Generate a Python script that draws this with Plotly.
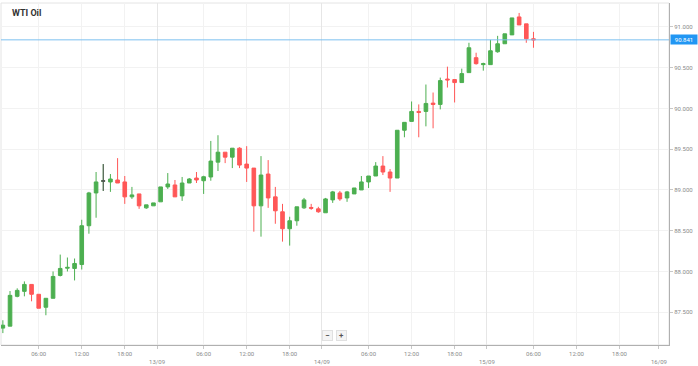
import pandas as pd
import plotly.graph_objects as go

# ---- data (hourly candles, 12/09 01:00 -> 15/09 06:00, 23:00 break each day) ----
opens = [87.305, 87.329, 87.695, 87.756, 87.841, 87.720, 87.561, 87.671, 87.951, 88.040,
         88.037, 88.085, 88.561, 88.963, 89.110, 89.098, 89.122, 89.098, 88.915, 88.951,
         88.780, 88.805, 88.854, 89.037, 89.061, 88.927, 89.085, 89.146, 89.113, 89.159,
         89.341, 89.463, 89.402, 89.512, 89.317, 89.268, 88.805, 89.195, 88.915, 88.732,
         88.524, 88.622, 88.780, 88.785, 88.768, 88.720, 88.878, 88.963, 88.902, 88.951,
         89.000, 89.098, 89.171, 89.293, 89.220, 89.146, 89.732, 89.841, 89.963, 89.963,
         90.065, 90.049, 90.360, 90.354, 90.317, 90.439, 90.622, 90.537, 90.537, 90.695,
         90.793, 90.902, 91.122, 91.037, 90.854]
highs = [87.402, 87.760, 87.793, 87.878, 87.841, 87.720, 87.671, 88.000, 88.207, 88.171,
         88.159, 88.634, 88.976, 89.220, 89.317, 89.195, 89.390, 89.171, 89.037, 88.951,
         88.817, 88.841, 89.037, 89.207, 89.122, 89.159, 89.146, 89.220, 89.174, 89.601,
         89.671, 89.463, 89.512, 89.524, 89.537, 89.268, 89.415, 89.366, 89.037, 88.829,
         88.671, 88.793, 88.902, 88.829, 88.793, 88.902, 88.988, 88.988, 88.988, 89.024,
         89.171, 89.171, 89.341, 89.415, 89.256, 89.732, 89.829, 90.085, 90.049, 90.293,
         90.195, 90.378, 90.512, 90.354, 90.488, 90.805, 90.683, 90.561, 90.841, 90.890,
         90.915, 91.110, 91.171, 91.037, 90.939]
lows = [87.244, 87.329, 87.683, 87.695, 87.634, 87.549, 87.463, 87.671, 87.939, 88.000,
        87.890, 88.024, 88.463, 88.659, 88.988, 88.976, 89.085, 88.829, 88.890, 88.768,
        88.768, 88.805, 88.854, 89.012, 88.915, 88.866, 89.085, 89.085, 88.951, 89.113,
        89.232, 89.329, 89.268, 89.268, 89.098, 88.488, 88.427, 88.780, 88.585, 88.366,
        88.317, 88.561, 88.768, 88.756, 88.720, 88.720, 88.841, 88.866, 88.854, 88.951,
        89.000, 89.024, 89.171, 89.183, 88.976, 89.146, 89.646, 89.841, 89.646, 89.780,
        89.756, 89.988, 90.256, 90.073, 90.317, 90.439, 90.537, 90.463, 90.537, 90.683,
        90.793, 90.902, 91.024, 90.805, 90.744]
closes = [87.341, 87.707, 87.768, 87.841, 87.720, 87.549, 87.671, 87.939, 88.037, 88.050,
          88.098, 88.561, 88.963, 89.098, 89.110, 89.134, 89.085, 88.915, 88.939, 88.805,
          88.817, 88.841, 89.037, 89.073, 88.915, 89.085, 89.134, 89.122, 89.162, 89.354,
          89.463, 89.402, 89.512, 89.305, 89.268, 88.805, 89.183, 88.902, 88.744, 88.524,
          88.622, 88.793, 88.878, 88.775, 88.732, 88.890, 88.976, 88.890, 88.976, 89.024,
          89.098, 89.171, 89.293, 89.220, 89.146, 89.732, 89.829, 89.963, 89.951, 90.061,
          90.049, 90.341, 90.350, 90.317, 90.427, 90.744, 90.549, 90.549, 90.707, 90.793,
          90.915, 91.110, 91.024, 90.854, 90.841]
neutral_idx = [14]          # doji drawn in grey
last_price_label = "90.841"

hour_tick_labels = ["06:00", "12:00", "18:00"]
price_ticks = [87.5, 88.0, 88.5, 89.0, 89.5, 90.0, 90.5, 91.0]
start_time = "2021-09-12 01:00"
axis_end_time = "2021-09-16 01:00"

# ---- build time slots (market candles skip 23:00; future has all hours) ----
all_hours = pd.date_range(start_time, axis_end_time, freq="h")
slots = []
for t in all_hours:
    if len(slots) < len(opens) and t.hour == 23:
        continue
    slots.append(t)
candle_times = slots[:len(opens)]
xs = list(range(len(opens)))

tickvals, ticktext, datevals = [], [], []
for i, t in enumerate(slots):
    lab = t.strftime("%H:%M")
    if lab in hour_tick_labels:
        tickvals.append(i); ticktext.append(lab)
    elif t.hour == 0:
        pos = i - 0.5
        tickvals.append(pos); ticktext.append("<br>" + t.strftime("%d/%m"))
        datevals.append(pos)

GREEN = "#4caf50"
RED = "#ff5757"

fig = go.Figure()
fig.add_trace(go.Candlestick(
    x=xs, open=opens, high=highs, low=lows, close=closes,
    increasing=dict(line=dict(color=GREEN, width=1), fillcolor=GREEN),
    decreasing=dict(line=dict(color=RED, width=1), fillcolor=RED),
    whiskerwidth=0, showlegend=False, hoverinfo="skip"))
fig.add_trace(go.Candlestick(
    x=[xs[i] for i in neutral_idx],
    open=[opens[i] for i in neutral_idx], high=[highs[i] for i in neutral_idx],
    low=[lows[i] for i in neutral_idx], close=[closes[i] for i in neutral_idx],
    increasing=dict(line=dict(color="#555555", width=1), fillcolor="#555555"),
    decreasing=dict(line=dict(color="#555555", width=1), fillcolor="#555555"),
    whiskerwidth=0, showlegend=False, hoverinfo="skip"))
# invisible trace to activate the date-grid axis
fig.add_trace(go.Scatter(x=[datevals[0]], y=[closes[0]], xaxis="x2",
                         mode="markers", marker=dict(opacity=0), showlegend=False,
                         hoverinfo="skip"))

xr = [-0.26, 92.9]
fig.update_layout(
    width=698, height=366,
    margin=dict(l=1, r=29, t=3, b=19),
    paper_bgcolor="white", plot_bgcolor="white",
    font=dict(family="Roboto, Arial, sans-serif", size=7, color="#8a8a8a"),
    boxgap=0.28,
    xaxis=dict(range=xr, tickmode="array", tickvals=tickvals, ticktext=ticktext,
               showgrid=True, gridcolor="#f2f2f2", gridwidth=1,
               showline=True, linecolor="#b0b0b0", linewidth=1,
               ticks="outside", ticklen=3, tickcolor="#c8c8c8",
               tickfont=dict(size=6, color="#8a8a8a"),
               rangeslider=dict(visible=False), zeroline=False, fixedrange=True),
    xaxis2=dict(range=xr, overlaying="x", tickmode="array", tickvals=datevals,
                showticklabels=False, showgrid=True, gridcolor="#e6e6e6",
                gridwidth=1, showline=False, zeroline=False, ticks=""),
    yaxis=dict(side="right", range=[87.098, 91.293], tickmode="array",
               tickvals=price_ticks, tickformat=".3f",
               showgrid=True, gridcolor="#f2f2f2", gridwidth=1,
               showline=True, linecolor="#b0b0b0", linewidth=1,
               ticks="outside", ticklen=3, tickcolor="#c8c8c8",
               tickfont=dict(size=6, color="#8a8a8a"), zeroline=False),
)

# light border on left/top
fig.add_shape(type="rect", xref="paper", yref="paper", x0=0, x1=1, y0=0, y1=1,
              line=dict(color="#e4e4e4", width=1), layer="below")
# current price line
fig.add_shape(type="line", xref="paper", yref="y", x0=0, x1=1,
              y0=closes[-1], y1=closes[-1], line=dict(color="#7cc0f0", width=1))
fig.add_annotation(xref="paper", yref="y", x=1.002, y=closes[-1], xanchor="left",
                   yanchor="middle", text=last_price_label, showarrow=False,
                   bgcolor="#2196f3", font=dict(size=6, color="white"),
                   borderpad=1, width=24)
# title
fig.add_annotation(xref="paper", yref="paper", x=0.013, y=0.971, xanchor="left",
                   yanchor="middle", text="<b>WTI Oil</b>", showarrow=False,
                   font=dict(size=9, color="#333333", family="Roboto, Arial, sans-serif"))
# zoom buttons
for xp, t in [(0.4895, "−"), (0.5095, "+")]:
    fig.add_annotation(xref="paper", yref="paper", x=xp, y=0.029, yanchor="middle",
                       xanchor="center", text="<b>%s</b>" % t,
                       showarrow=False, font=dict(size=8, color="#555555"),
                       bgcolor="#f4f4f4", bordercolor="#e0e0e0", borderwidth=1,
                       width=9, height=9, borderpad=0)

fig.write_html("out.html", config={"displayModeBar": False},
               post_script="document.body.style.margin='0';document.body.style.padding='0';")
